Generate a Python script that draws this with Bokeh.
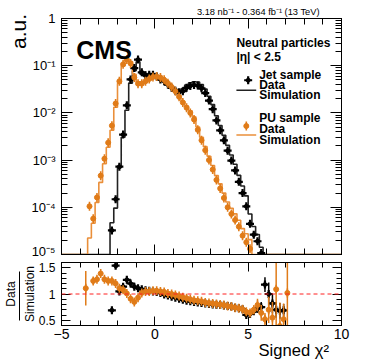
import numpy as np
from bokeh.plotting import figure
from bokeh.layouts import column
from bokeh.models import (ColumnDataSource, Range1d, LinearAxis, LogAxis,
                          SingleIntervalTicker, LogTicker, FixedTicker, CustomJSTickFormatter,
                          CustomLabelingPolicy, Label, Span)
from bokeh.embed import file_html
from bokeh.resources import INLINE

# ---------------- data ----------------
X_MIN, X_MAX, BIN_W = -5.0, 10.0, 0.2
Y_FLOOR = 1e-5

# PU sample (orange): bins centred from -3.7 in steps of 0.2
pu_first_center = -3.7
pu_data = [7.9e-6, 1.05e-4, 5.75e-5, 1.62e-4, 4.68e-4, 1.07e-3, 2.34e-3, 5.37e-3,
           1.58e-2, 4.68e-2, 0.107, 0.135, 0.112, 0.0562, 0.0417, 0.0417, 0.0468,
           0.0525, 0.0575, 0.0589, 0.0562, 0.0501, 0.0427, 0.0355, 0.0288, 0.0219,
           0.0166, 0.0129, 0.0100, 7.24e-3, 4.37e-3, 2.63e-3, 1.62e-3, 1.00e-3,
           6.31e-4, 3.80e-4, 2.51e-4, 1.58e-4, 1.00e-4, 7.24e-5, 5.37e-5, 3.89e-5,
           2.51e-5, 1.82e-5, 1.32e-5, 6.5e-6, 4.5e-6, 3.2e-6, 2.5e-6, 2.0e-6,
           1.6e-6, 1.3e-6, 1.0e-6, 8e-7, 6e-7]
pu_ratio = [1.11, 4.70, 1.25, 1.28, 1.39, 1.28, 1.25, 1.25, 1.20, 1.11, 1.08, 1.01,
            0.91, 0.85, 0.93, 1.02, 1.05, 1.05, 1.06,
            1.06, 1.05, 1.04, 1.01, 1.00, 0.98, 0.96, 0.94, 0.92, 0.90, 0.88, 0.87,
            0.86, 0.84, 0.83, 0.82, 0.81, 0.80, 0.79, 0.77, 0.76, 0.74, 0.73, 0.71,
            0.66,
            0.64, 0.70, 0.79, 0.64, 0.52, 0.70, 0.55, 1.09, 0.39, 0.52, 1.02]
pu_ratio_err = [0.33, 0.50, 0.07, 0.05, 0.04, 0.03, 0.03, 0.02, 0.02, 0.02, 0.02, 0.02,
                0.02, 0.02, 0.02, 0.02, 0.02, 0.02, 0.02,
                0.02, 0.02, 0.02, 0.02, 0.02, 0.02, 0.02, 0.02, 0.02, 0.02, 0.02, 0.02,
                0.02, 0.02, 0.02, 0.02, 0.02, 0.02, 0.02, 0.02, 0.02, 0.02, 0.03, 0.04,
                0.05,
                0.06, 0.08, 0.12, 0.15, 0.12, 0.25, 0.30, 0.90, 0.45, 0.30, 0.90]

# Jet sample (black): bins centred from -2.3 in steps of 0.2
jet_first_center = -2.3
jet_data = [3.24e-5, 1.48e-4, 7.24e-4, 3.47e-3, 1.45e-2, 5.13e-2, 8.91e-2, 0.135,
            0.0724, 0.0631, 0.0646, 0.0646,
            0.0589, 0.0513, 0.0468, 0.0398, 0.0339, 0.0295, 0.0275, 0.0288, 0.0339,
            0.0372, 0.0389, 0.0380, 0.0331, 0.0263, 0.0182, 0.0120, 6.92e-3, 4.27e-3,
            2.63e-3, 1.58e-3, 9.77e-4, 6.03e-4, 3.47e-4, 2.00e-4, 1.05e-4,
            4.47e-5, 2.63e-5, 1.91e-5, 1.07e-5, 7e-6, 5e-6, 3.5e-6, 2.5e-6, 1.8e-6, 1.3e-6]
jet_ratio = [0.69, 1.54, 1.05, 1.14, 1.27, 1.20, 1.14, 1.11, 1.09, 1.07, 1.06, 1.05,
             1.04, 1.02, 0.99, 0.97, 0.95, 0.93, 0.91, 0.89, 0.87, 0.86, 0.85, 0.84,
             0.83, 0.82, 0.81, 0.80, 0.795, 0.79, 0.78, 0.77, 0.76, 0.74, 0.73, 0.71, 0.60,
             0.62, 0.67, 0.72, 0.75, 1.18, 1.00, 0.82, 0.70, 0.68, 0.69]
jet_ratio_err = [0.05, 0.06, 0.03, 0.02, 0.02, 0.015, 0.015, 0.015, 0.015, 0.015, 0.015, 0.015,
                 0.015, 0.015, 0.015, 0.015, 0.015, 0.015, 0.015, 0.015, 0.015, 0.015, 0.015, 0.015,
                 0.015, 0.015, 0.015, 0.015, 0.015, 0.015, 0.015, 0.015, 0.015, 0.02, 0.02, 0.03, 0.03,
                 0.04, 0.05, 0.07, 0.10, 0.14, 0.22, 0.18, 0.15, 0.15, 0.12]

lumi_text = "3.18 nb\u207b\u00b9 - 0.364 fb\u207b\u00b9 (13 TeV)"
x_title = "Signed \u03c7\u00b2"
y_title = "a.u."

# ---------------- style ----------------
FONT = "Liberation Sans"
ORANGE_MARK = "#e07b18"
ORANGE_LINE = "#ea8f3a"
BLACK = "#000000"
MC_BLACK = "#222222"
W = 374
NBSP = "\u00a0"   # non-collapsing spaces shift centred axis titles toward the frame ends


def centers(first, n):
    return np.round(first + BIN_W * np.arange(n), 2)


def mc_steps(first, data, ratio):
    n_bins = int(round((X_MAX - X_MIN) / BIN_W))
    edges = X_MIN + BIN_W * np.arange(n_bins + 1)
    vals = np.full(n_bins, Y_FLOOR)
    i0 = int(round((first - BIN_W / 2 - X_MIN) / BIN_W))
    mc = np.array(data) / np.array(ratio)
    vals[i0:i0 + len(mc)] = np.maximum(mc, Y_FLOOR)
    return edges, np.append(vals, vals[-1])


def set_enum(obj, attr, options):
    for o in options:
        try:
            setattr(obj, attr, o)
            return True
        except Exception:
            pass
    return False


log_fmt = CustomJSTickFormatter(code="""
const e = Math.round(Math.log10(tick));
if (e == 0) return "1";
const sup = {"-":"\u207b","0":"\u2070","1":"\u00b9","2":"\u00b2","3":"\u00b3","4":"\u2074",
             "5":"\u2075","6":"\u2076","7":"\u2077","8":"\u2078","9":"\u2079"};
return "10" + String(e).split("").map(c => sup[c]).join("");
""")
x_fmt = CustomJSTickFormatter(code="""
return tick < 0 ? "\u2212" + Math.abs(tick) : String(tick);
""")
r_fmt = CustomJSTickFormatter(code="""
return Math.abs(tick - 1) < 1e-6 ? "1" : tick.toFixed(1);
""")


def style_axis(ax, major_in, minor_in, show_labels, size="13px", standoff=4):
    ax.major_tick_in = major_in
    ax.major_tick_out = 0
    ax.minor_tick_in = minor_in
    ax.minor_tick_out = 0
    ax.axis_line_color = BLACK
    ax.major_tick_line_color = BLACK
    ax.minor_tick_line_color = BLACK
    ax.major_label_text_font = FONT
    ax.major_label_text_color = BLACK
    if show_labels:
        ax.major_label_text_font_size = size
        ax.major_label_standoff = standoff
    else:
        ax.major_label_text_font_size = "2px"
        ax.major_label_standoff = 0
        ax.major_label_policy = CustomLabelingPolicy(code="return new Set()")


def axis_title(ax, text, size, standoff):
    ax.axis_label = text
    ax.axis_label_text_font = FONT
    ax.axis_label_text_font_size = size
    ax.axis_label_text_font_style = "normal"
    ax.axis_label_text_color = BLACK
    ax.axis_label_standoff = standoff
    set_enum(ax, "axis_label_standoff_mode", ["axis"])


# ---------------- main panel ----------------
p1 = figure(width=W, height=258, x_range=Range1d(X_MIN, X_MAX),
            y_range=Range1d(Y_FLOOR, 1.0), y_axis_type="log", title=None,
            output_backend="svg", toolbar_location=None,
            min_border_left=58, min_border_right=33, min_border_top=18,
            min_border_bottom=3)
p1.grid.visible = False
p1.outline_line_color = BLACK

p1.xaxis.ticker = SingleIntervalTicker(interval=5, num_minor_ticks=5)
style_axis(p1.xaxis[0], 10, 6, False)
p1.yaxis.ticker = LogTicker(num_minor_ticks=10)
p1.yaxis.formatter = log_fmt
style_axis(p1.yaxis[0], 11, 6, True, size="13px", standoff=6)
axis_title(p1.yaxis[0], NBSP * 36 + y_title, "21px", 32)

top1 = LinearAxis(ticker=SingleIntervalTicker(interval=5, num_minor_ticks=5))
style_axis(top1, 10, 6, False)
axis_title(top1, NBSP * 44 + lumi_text, "9.3px", 2)
p1.add_layout(top1, "above")
right1 = LogAxis(ticker=LogTicker(num_minor_ticks=10))
style_axis(right1, 11, 6, False)
p1.add_layout(right1, "right")

series = [
    ("jet", jet_first_center, jet_data, jet_ratio, jet_ratio_err, MC_BLACK, BLACK),
    ("pu", pu_first_center, pu_data, pu_ratio, pu_ratio_err, ORANGE_LINE, ORANGE_MARK),
]


def draw_points(p, src, kind, color):
    if kind == "jet":
        p.scatter("x", "y", source=src, marker="cross", size=8, line_width=2.2, color=color)
        p.scatter("x", "y", source=src, marker="circle", size=4, color=color)
    else:
        p.scatter("x", "y", source=src, marker="dash", angle=np.pi / 2, size=9,
                  line_width=1.6, color=color)
        p.scatter("x", "y", source=src, marker="circle", size=5, color=color)


for kind, first, data, ratio, err, lcol, mcol in series:
    edges, vals = mc_steps(first, data, ratio)
    p1.step(x=edges, y=vals, mode="after", line_color=lcol, line_width=1.6)
for kind, first, data, ratio, err, lcol, mcol in series:
    c = centers(first, len(data))
    d = np.array(data)
    rel = np.array(err) / np.array(ratio)
    keep = d >= Y_FLOOR
    src = ColumnDataSource(dict(x=c[keep], y=d[keep], lo=(d * (1 - rel))[keep],
                                hi=(d * (1 + rel))[keep]))
    p1.segment(x0="x", y0="lo", x1="x", y1="hi", source=src, line_color=mcol, line_width=1.5)
    draw_points(p1, src, kind, mcol)

# legend keys
key_jet = ColumnDataSource(dict(x=[5.0], y=[0.0492]))
key_pu = ColumnDataSource(dict(x=[4.9], y=[0.00527]))
draw_points(p1, key_jet, "jet", BLACK)
draw_points(p1, key_pu, "pu", ORANGE_MARK)
p1.line([4.37, 5.43], [0.0303, 0.0303], line_color=MC_BLACK, line_width=1.6)
p1.line([4.37, 5.43], [0.0034, 0.0034], line_color=ORANGE_LINE, line_width=1.6)


def lab(p, x, y, text, size, bold=False, align="left"):
    p.add_layout(Label(x=x, y=y, text=text, text_font=FONT, text_font_size=size,
                       text_font_style="bold" if bold else "normal", text_color=BLACK,
                       text_align=align, text_baseline="alphabetic"))


lab(p1, -4.21, 0.211, "CMS", "25px", bold=True)
lab(p1, 4.37, 0.297, "Neutral particles", "12px", bold=True)
lab(p1, 4.37, 0.150, "|\u03b7| < 2.5", "12px", bold=True)
lab(p1, 5.59, 0.0627, "Jet sample", "12px", bold=True)
lab(p1, 5.59, 0.0386, "Data", "12px", bold=True)
lab(p1, 5.59, 0.0238, "Simulation", "12px", bold=True)
lab(p1, 5.59, 0.00776, "PU sample", "12px", bold=True)
lab(p1, 5.59, 0.00455, "Data", "12px", bold=True)
lab(p1, 5.59, 0.00267, "Simulation", "12px", bold=True)

# ---------------- ratio panel ----------------
p2 = figure(width=W, height=104, x_range=p1.x_range, y_range=Range1d(0.4, 1.6),
            title=None, output_backend="svg", toolbar_location=None,
            min_border_left=58, min_border_right=33, min_border_top=4,
            min_border_bottom=35)
p2.grid.visible = False
p2.outline_line_color = BLACK

p2.xaxis.ticker = SingleIntervalTicker(interval=5, num_minor_ticks=5)
p2.xaxis.formatter = x_fmt
style_axis(p2.xaxis[0], 9, 5, True, size="14px", standoff=3)
axis_title(p2.xaxis[0], NBSP * 40 + x_title, "16.6px", 15)
p2.yaxis.ticker = SingleIntervalTicker(interval=0.5, num_minor_ticks=5)
p2.yaxis.formatter = r_fmt
style_axis(p2.yaxis[0], 9, 5, True, size="12px", standoff=6)
axis_title(p2.yaxis[0], "Simulation", "12px", 25)

# fraction bar with numerator "Data": an extra bare axis whose line is the bar
frac = LinearAxis(ticker=FixedTicker(ticks=[]), bounds=(0.49, 1.42))
style_axis(frac, 0, 0, False)
axis_title(frac, "Data", "12px", 2)
p2.add_layout(frac, "left")

top2 = LinearAxis(ticker=SingleIntervalTicker(interval=5, num_minor_ticks=5))
style_axis(top2, 9, 5, False)
p2.add_layout(top2, "above")
right2 = LinearAxis(ticker=SingleIntervalTicker(interval=0.5, num_minor_ticks=5))
style_axis(right2, 9, 5, False)
p2.add_layout(right2, "right")

p2.add_layout(Span(location=1.0, dimension="width", line_color="#ff2020",
                   line_dash="4 3", line_width=1))

for kind, first, data, ratio, err, lcol, mcol in series:
    c = centers(first, len(ratio))
    r = np.array(ratio)
    e = np.array(err)
    src = ColumnDataSource(dict(x=c, y=r, lo=r - e, hi=r + e))
    p2.segment(x0="x", y0="lo", x1="x", y1="hi", source=src, line_color=mcol, line_width=1.5)
    draw_points(p2, src, kind, mcol)

layout = column(p1, p2)
with open("out.html", "w", encoding="utf-8") as f:
    f.write(file_html(layout, INLINE))
